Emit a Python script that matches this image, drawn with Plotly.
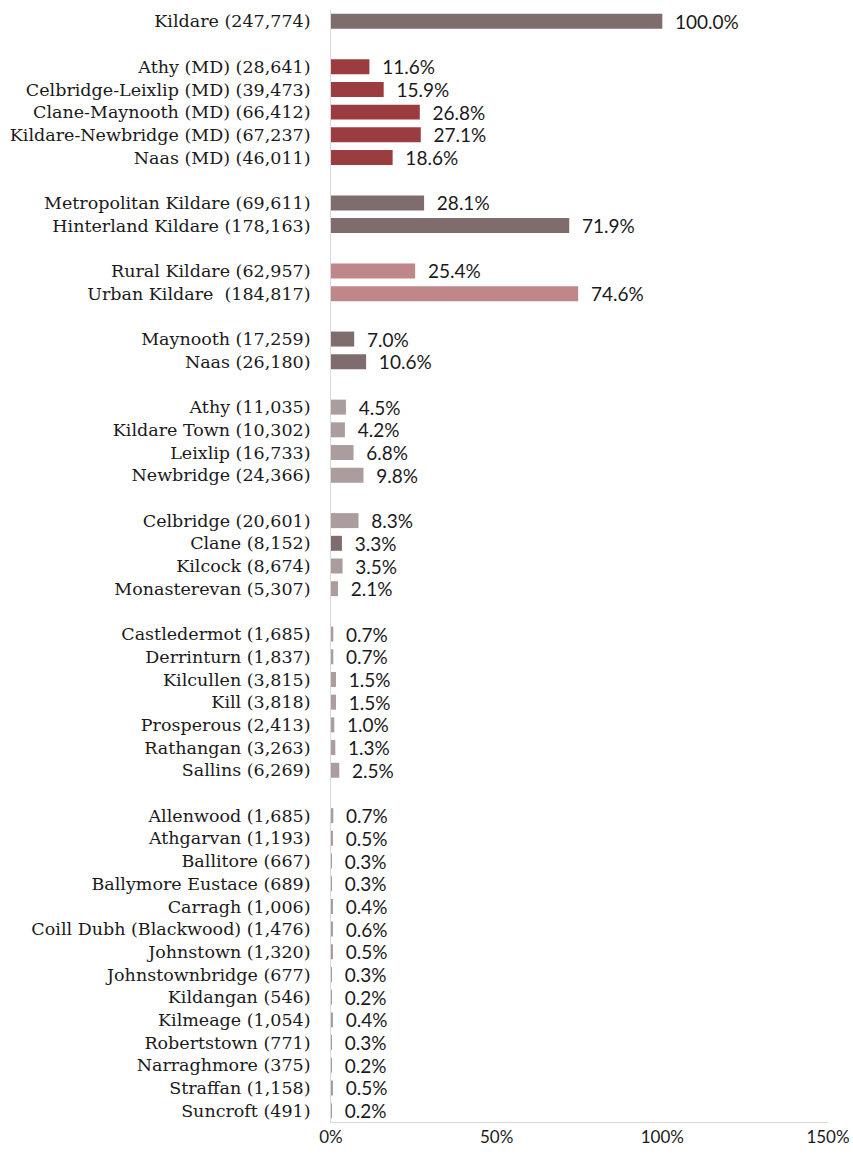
import plotly.graph_objects as go

# Population groups for County Kildare (Census counts), shown as share of county total
groups = [
    (["Kildare (247,774)"], [100.0], ["#7f6c6c"]),
    (["Athy (MD) (28,641)", "Celbridge-Leixlip (MD) (39,473)", "Clane-Maynooth (MD) (66,412)",
      "Kildare-Newbridge (MD) (67,237)", "Naas (MD) (46,011)"],
     [11.6, 15.9, 26.8, 27.1, 18.6], ["#9b3d40"] * 5),
    (["Metropolitan Kildare (69,611)", "Hinterland Kildare (178,163)"],
     [28.1, 71.9], ["#7f6c6c"] * 2),
    (["Rural Kildare (62,957)", "Urban Kildare  (184,817)"],
     [25.4, 74.6], ["#bf8789"] * 2),
    (["Maynooth (17,259)", "Naas (26,180)"], [7.0, 10.6], ["#7f6c6c"] * 2),
    (["Athy (11,035)", "Kildare Town (10,302)", "Leixlip (16,733)", "Newbridge (24,366)"],
     [4.5, 4.2, 6.8, 9.8], ["#ab9c9d"] * 4),
    (["Celbridge (20,601)", "Clane (8,152)", "Kilcock (8,674)", "Monasterevan (5,307)"],
     [8.3, 3.3, 3.5, 2.1], ["#ab9c9d", "#7f6c6c", "#ab9c9d", "#ab9c9d"]),
    (["Castledermot (1,685)", "Derrinturn (1,837)", "Kilcullen (3,815)", "Kill (3,818)",
      "Prosperous (2,413)", "Rathangan (3,263)", "Sallins (6,269)"],
     [0.7, 0.7, 1.5, 1.5, 1.0, 1.3, 2.5], ["#ab9c9d"] * 7),
    (["Allenwood (1,685)", "Athgarvan (1,193)", "Ballitore (667)", "Ballymore Eustace (689)",
      "Carragh (1,006)", "Coill Dubh (Blackwood) (1,476)", "Johnstown (1,320)",
      "Johnstownbridge (677)", "Kildangan (546)", "Kilmeage (1,054)", "Robertstown (771)",
      "Narraghmore (375)", "Straffan (1,158)", "Suncroft (491)"],
     [0.7, 0.5, 0.3, 0.3, 0.4, 0.6, 0.5, 0.3, 0.2, 0.4, 0.3, 0.2, 0.5, 0.2], ["#ab9c9d"] * 14),
]

x_ticks = [0, 50, 100, 150]

# Flatten groups, inserting an empty spacer category between groups
categories, values, colors, texts = [], [], [], []
for gi, (names, vals, cols) in enumerate(groups):
    if gi > 0:
        categories.append(" " * gi)
        values.append(None)
        colors.append("rgba(0,0,0,0)")
        texts.append("")
    for n, v, c in zip(names, vals, cols):
        categories.append(n)
        values.append(v)
        colors.append(c)
        texts.append("\u00a0\u00a0" + f"{v:.1f}%")

fig = go.Figure(go.Bar(
    x=values,
    y=categories,
    orientation="h",
    marker=dict(color=colors, line=dict(width=0)),
    text=texts,
    textposition="outside",
    constraintext="none",
    textfont=dict(family="Lato", size=19, color="#1a1a1a"),
    cliponaxis=False,
    hoverinfo="skip",
))

fig.update_layout(
    width=853,
    height=1156,
    margin=dict(l=331, r=25, t=10, b=34),
    paper_bgcolor="white",
    plot_bgcolor="white",
    bargap=0.34,
    showlegend=False,
    font=dict(family="Lato", size=17, color="#1a1a1a"),
    uniformtext=dict(mode=False),
)

fig.update_xaxes(
    range=[0, 150],
    tickvals=x_ticks,
    ticktext=[f"{t}%" for t in x_ticks],
    showgrid=False,
    zeroline=False,
    showline=True,
    linecolor="#d9d9d9",
    linewidth=1,
    ticks="",
    tickfont=dict(family="Lato", size=17, color="#1a1a1a"),
    automargin=False,
)

fig.update_yaxes(
    categoryorder="array",
    categoryarray=categories,
    autorange="reversed",
    showgrid=False,
    zeroline=False,
    showline=True,
    linecolor="#d9d9d9",
    linewidth=1,
    ticks="",
    ticklabelstandoff=16,
    tickfont=dict(family="DejaVu Serif", size=17.5, color="#1a1a1a"),
    automargin=False,
)

fig.write_html("out.html")
